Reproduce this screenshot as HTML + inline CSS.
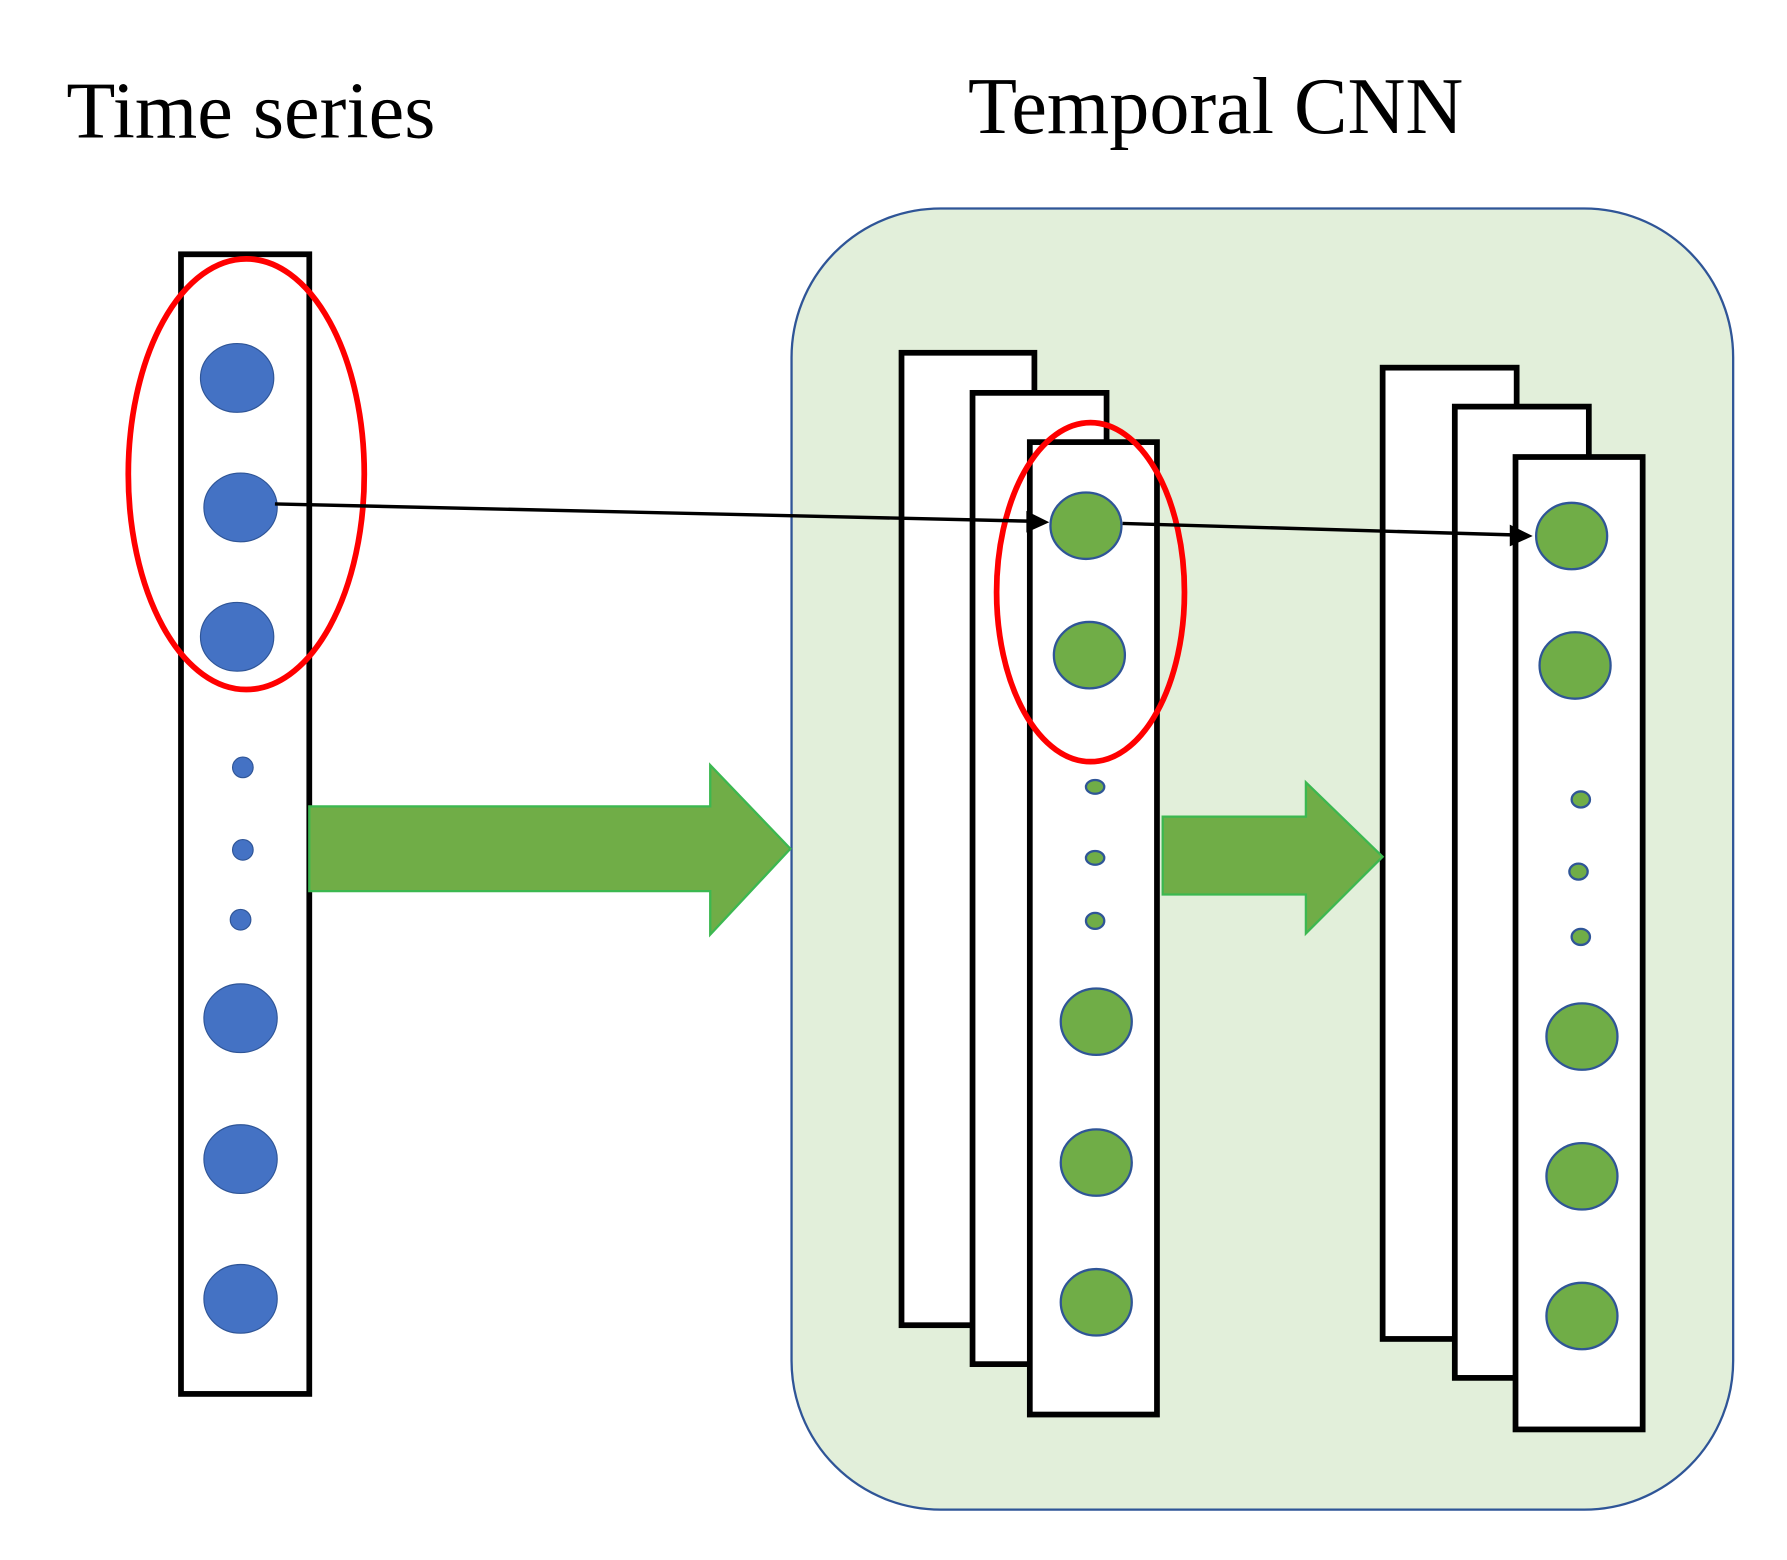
<!DOCTYPE html>
<html><head><style>html,body{margin:0;padding:0;background:#fff}svg{display:block}</style></head><body>
<svg width="1787" height="1560" viewBox="0 0 1560 1362" preserveAspectRatio="none" xmlns="http://www.w3.org/2000/svg">
<rect width="1560" height="1362" fill="#fff"/>
<text x="58" y="120" font-family="Liberation Serif, serif" font-size="70" fill="#000">Time series</text>
<text x="845" y="116" font-family="Liberation Serif, serif" font-size="70" fill="#000">Temporal CNN</text>
<rect x="691" y="182" width="822" height="1136" rx="130" ry="130" fill="#e2efda" stroke="#2f5597" stroke-width="2"/>
<rect x="158" y="222" width="112" height="995" fill="#fff" stroke="#000" stroke-width="5"/>
<g fill="#4472c4" stroke="#2f5597" stroke-width="1">
<ellipse cx="207" cy="330" rx="32" ry="30"/><ellipse cx="210" cy="443" rx="32" ry="30"/><ellipse cx="207" cy="556" rx="32" ry="30"/>
<ellipse cx="210" cy="889" rx="32" ry="30"/><ellipse cx="210" cy="1012" rx="32" ry="30"/><ellipse cx="210" cy="1134" rx="32" ry="30"/>
<circle cx="212" cy="670" r="9"/><circle cx="212" cy="742" r="9"/><circle cx="210" cy="803" r="9"/>
</g>
<ellipse cx="215" cy="414" rx="103" ry="188" fill="none" stroke="#f00" stroke-width="5"/>
<g fill="#fff" stroke="#000" stroke-width="5">
<rect x="787" y="308" width="116" height="849"/><rect x="849" y="343" width="117" height="848"/><rect x="899" y="386" width="111" height="849"/>
<rect x="1207" y="321" width="117" height="848"/><rect x="1270" y="355" width="117" height="848"/><rect x="1323" y="399" width="111" height="849"/>
</g>
<g fill="#70ad47" stroke="#2f5597" stroke-width="2">
<ellipse cx="948" cy="459" rx="31" ry="29"/><ellipse cx="951" cy="572" rx="31" ry="29"/>
<ellipse cx="957" cy="892" rx="31" ry="29"/><ellipse cx="957" cy="1015" rx="31" ry="29"/><ellipse cx="957" cy="1137" rx="31" ry="29"/>
<ellipse cx="956" cy="687" rx="8" ry="6"/><ellipse cx="956" cy="749" rx="8" ry="6"/><ellipse cx="956" cy="804" rx="8" ry="7"/>
<ellipse cx="1372" cy="468" rx="31" ry="29"/><ellipse cx="1375" cy="581" rx="31" ry="29"/>
<ellipse cx="1381" cy="905" rx="31" ry="29"/><ellipse cx="1381" cy="1027" rx="31" ry="29"/><ellipse cx="1381" cy="1149" rx="31" ry="29"/>
<ellipse cx="1380" cy="698" rx="8" ry="7"/><ellipse cx="1378" cy="761" rx="8" ry="7"/><ellipse cx="1380" cy="818" rx="8" ry="7"/>
</g>
<ellipse cx="952" cy="517" rx="82" ry="148" fill="none" stroke="#f00" stroke-width="5"/>
<g stroke="#000" stroke-width="3" fill="#000">
<line x1="240" y1="440" x2="898" y2="455"/><polygon points="916,456 896,446 896,465" stroke="none"/>
<line x1="980" y1="457" x2="1320" y2="467"/><polygon points="1338,468 1318,458 1318,477" stroke="none"/>
</g>
<polygon points="270,704 620,704 620,668 690,741 620,816 620,778 270,778" fill="#70ad47" stroke="#3cb850" stroke-width="2"/>
<polygon points="1015,713 1140,713 1140,683 1207,748 1140,815 1140,781 1015,781" fill="#70ad47" stroke="#3cb850" stroke-width="2"/>
</svg>
</body></html>
